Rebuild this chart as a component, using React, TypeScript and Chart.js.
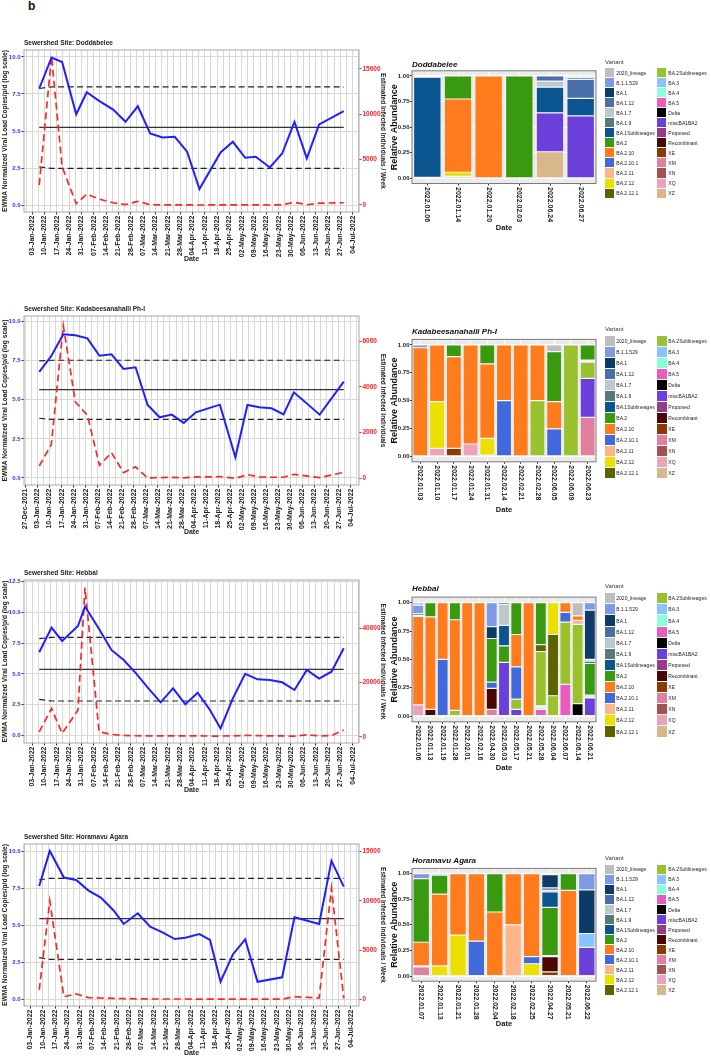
import React, { useEffect, useRef } from 'react';
import { Chart, registerables } from 'chart.js';

Chart.register(...registerables);

const FONT = '"Liberation Sans", Arial, Helvetica, sans-serif';
Chart.defaults.font.family = FONT;

// ---------------- Line charts: days after 03-Jan-2022 ----------------
const doddaDays = [4, 11, 17, 25, 31, 38, 46, 53, 60, 67, 74, 81, 88, 95, 107, 114, 121, 127, 135, 142, 149, 156, 163, 177];
const doddaViral = [7.87, 9.96, 9.66, 6.13, 7.62, 7.03, 6.45, 5.62, 6.67, 4.83, 4.56, 4.61, 3.6, 1.08, 3.55, 4.27, 3.19, 3.26, 2.54, 3.48, 5.62, 3.15, 5.44, 6.34];
const doddaInfected = [2200, 16400, 4200, 150, 1200, 650, 250, 40, 400, 30, 20, 20, 10, 0, 10, 10, 10, 10, 0, 20, 300, 30, 200, 250];
const doddaMean = 5.24;
const doddaUpper = [7.87, 7.98];
const doddaLower = [2.58, 2.47];

const kadaDays = [1, 8, 15, 22, 29, 36, 43, 50, 57, 64, 71, 78, 85, 92, 106, 115, 122, 129, 136, 143, 149, 164, 178];
const kadaViral = [6.78, 7.8, 9.19, 9.13, 8.93, 7.82, 7.91, 6.97, 7.08, 4.67, 3.88, 4.05, 3.52, 4.2, 4.69, 1.32, 4.67, 4.52, 4.46, 4.07, 5.48, 4.05, 6.16];
const kadaInfected = [540, 1475, 6670, 3340, 2760, 570, 1120, 250, 500, 15, 30, 45, 15, 60, 70, 0, 160, 60, 45, 45, 175, 30, 260];
const kadaMean = 5.65;
const kadaUpper = [7.49, 7.53];
const kadaLower = [3.82, 3.75];

const hebbalDays = [4, 11, 17, 26, 30, 38, 45, 52, 59, 66, 73, 80, 87, 94, 101, 107, 114, 121, 128, 135, 142, 149, 156, 163, 170, 177];
const hebbalViral = [6.75, 8.75, 7.67, 8.88, 10.45, 8.64, 6.94, 6.13, 5.05, 3.83, 2.7, 3.83, 2.54, 3.48, 2.08, 0.59, 3.02, 5.0, 4.56, 4.5, 4.32, 3.7, 5.32, 4.62, 5.18, 7.07];
const hebbalInfected = [1800, 10400, 1230, 9800, 55000, 1800, 860, 500, 350, 300, 300, 300, 300, 300, 250, 250, 300, 500, 400, 300, 300, 200, 700, 300, 400, 2500];
const hebbalMean = 5.37;
const hebbalUpper = [7.86, 7.96];
const hebbalLower = [2.94, 2.81];

const horaDays = [5, 11, 19, 26, 33, 40, 47, 53, 61, 68, 75, 82, 88, 96, 102, 108, 115, 122, 129, 143, 150, 164, 171, 178];
const horaViral = [7.65, 10.02, 8.22, 8.06, 7.34, 6.86, 6.03, 5.08, 5.8, 4.9, 4.51, 4.06, 4.15, 4.4, 4.0, 1.17, 3.02, 4.04, 1.17, 1.47, 5.53, 5.08, 9.35, 7.61];
const horaInfected = [950, 9990, 270, 540, 170, 135, 100, 70, 50, 30, 30, 30, 30, 20, 20, 20, 20, 20, 20, 20, 270, 135, 11270, 100];
const horaMean = 5.44;
const horaUpper = [8.06, 8.17];
const horaLower = [2.8, 2.69];

const viralTicks = [0, 2.5, 5, 7.5, 10];
const viralTicksHebbal = [0, 2.5, 5, 7.5, 10, 12.5];
const infectedTicks15k = [0, 5000, 10000, 15000];
const infectedTicks6k = [0, 2000, 4000, 6000];
const infectedTicks40k = [0, 20000, 40000];

// ---------------- Variants ----------------
const variants = ['2020_lineage', 'B.1.1.529', 'BA.1', 'BA.1.12', 'BA.1.7', 'BA.1.9', 'BA.1Sublineages', 'BA.2', 'BA.2.10', 'BA.2.10.1', 'BA.2.11', 'BA.2.12', 'BA.2.12.1', 'BA.2Sublineages', 'BA.3', 'BA.4', 'BA.5', 'Delta', 'miscBA1BA2', 'Proposed', 'Recombinant', 'XE', 'XM', 'XN', 'XQ', 'XZ'];
const variantColors = ['#BEBEBE', '#7D9AE2', '#0B3B66', '#4A6FA8', '#BCC8CC', '#5A7878', '#0A5590', '#3A9A0F', '#FF7B1C', '#4169DB', '#FFB48A', '#EBE000', '#5C6400', '#9AC22E', '#88C4FF', '#88FFDA', '#EA5BC0', '#000000', '#6A3FDA', '#963A8C', '#4A0804', '#8B3A02', '#E07F9E', '#A4524F', '#EBA2BA', '#D8B78A'];

// ---------------- Bar charts ----------------
const doddaBarDates = ['2022.01.06', '2022.01.14', '2022.01.20', '2022.02.03', '2022.06.24', '2022.06.27'];
const doddaBarMix: [string, number][][] = [
  [['B.1.1.529', 0.012], ['BA.1Sublineages', 0.978], ['XE', 0.01]],
  [['BA.2', 0.225], ['BA.2.10', 0.715], ['BA.2.12', 0.04], ['XM', 0.02]],
  [['BA.2.10', 1]],
  [['BA.2', 1]],
  [['BA.1.12', 0.05], ['BA.1.7', 0.06], ['BA.1Sublineages', 0.25], ['miscBA1BA2', 0.38], ['XZ', 0.26]],
  [['2020_lineage', 0.015], ['B.1.1.529', 0.02], ['BA.1.12', 0.185], ['BA.1Sublineages', 0.17], ['miscBA1BA2', 0.61]],
];

const kadaBarDates = ['2022.01.03', '2022.01.10', '2022.01.17', '2022.01.24', '2022.01.31', '2022.02.14', '2022.02.21', '2022.02.28', '2022.06.05', '2022.06.09', '2022.06.23'];
const kadaBarMix: [string, number][][] = [
  [['B.1.1.529', 0.025], ['BA.2.10', 0.975]],
  [['BA.2.10', 0.51], ['BA.2.12', 0.42], ['XQ', 0.07]],
  [['BA.2', 0.105], ['BA.2.10', 0.825], ['XE', 0.07]],
  [['BA.2.10', 0.89], ['XQ', 0.11]],
  [['BA.2', 0.17], ['BA.2.10', 0.67], ['BA.2.12', 0.15], ['XQ', 0.01]],
  [['BA.2.10', 0.5], ['BA.2.10.1', 0.5]],
  [['BA.2.10', 1]],
  [['BA.2.10', 0.5], ['BA.2Sublineages', 0.5]],
  [['2020_lineage', 0.06], ['BA.2', 0.45], ['BA.2.10', 0.245], ['BA.2.10.1', 0.245]],
  [['BA.2Sublineages', 1]],
  [['BA.2', 0.135], ['BA.2.10', 0.01], ['BA.2.10.1', 0.01], ['BA.2Sublineages', 0.145], ['miscBA1BA2', 0.35], ['XM', 0.35]],
];

const hebbalBarDates = ['2022.01.06', '2022.01.13', '2022.01.19', '2022.01.28', '2022.02.01', '2022.02.16', '2022.04.30', '2022.05.03', '2022.05.17', '2022.05.21', '2022.05.28', '2022.06.04', '2022.06.07', '2022.06.14', '2022.06.21'];
const hebbalBarMix: [string, number][][] = [
  [['2020_lineage', 0.02], ['B.1.1.529', 0.075], ['BA.1', 0.015], ['BA.1.12', 0.01], ['BA.2.10', 0.78], ['XQ', 0.1]],
  [['BA.2', 0.125], ['BA.2.10', 0.815], ['Recombinant', 0.06]],
  [['BA.2.10', 0.5], ['BA.2.10.1', 0.5]],
  [['BA.2', 0.15], ['BA.2.10', 0.8], ['BA.2Sublineages', 0.05]],
  [['BA.2.10', 1]],
  [['BA.2.10', 1]],
  [['B.1.1.529', 0.21], ['BA.1', 0.105], ['BA.2', 0.385], ['BA.2.10.1', 0.055], ['Recombinant', 0.185], ['XM', 0.06]],
  [['BA.1', 0.015], ['BA.1.7', 0.185], ['BA.1Sublineages', 0.18], ['BA.2', 0.145], ['miscBA1BA2', 0.475]],
  [['BA.2', 0.28], ['BA.2.10', 0.285], ['BA.2.10.1', 0.285], ['BA.2Sublineages', 0.09], ['miscBA1BA2', 0.06]],
  [['BA.2.10', 1]],
  [['BA.2', 0.37], ['BA.2.12.1', 0.06], ['BA.2Sublineages', 0.48], ['BA.3', 0.01], ['BA.4', 0.02], ['BA.5', 0.06]],
  [['BA.2.12', 0.28], ['BA.2.12.1', 0.54], ['BA.2Sublineages', 0.18]],
  [['BA.2.10', 0.085], ['BA.2.10.1', 0.085], ['BA.2Sublineages', 0.55], ['BA.5', 0.28]],
  [['2020_lineage', 0.115], ['BA.2.10', 0.04], ['BA.2.11', 0.035], ['BA.2Sublineages', 0.7], ['Delta', 0.11]],
  [['B.1.1.529', 0.065], ['BA.1', 0.435], ['BA.1.7', 0.015], ['BA.1Sublineages', 0.02], ['BA.2', 0.28], ['BA.2Sublineages', 0.015], ['BA.3', 0.01], ['miscBA1BA2', 0.16]],
];

const horaBarDates = ['2022.01.07', '2022.01.13', '2022.01.21', '2022.01.28', '2022.02.04', '2022.02.18', '2022.02.25', '2022.04.27', '2022.05.21', '2022.06.22'];
const horaBarMix: [string, number][][] = [
  [['B.1.1.529', 0.05], ['BA.2', 0.62], ['BA.2.10', 0.23], ['Proposed', 0.01], ['XM', 0.09]],
  [['B.1.1.529', 0.015], ['BA.2', 0.185], ['BA.2.10', 0.7], ['BA.2.12', 0.1]],
  [['BA.2.10', 0.6], ['BA.2.12', 0.4]],
  [['BA.2.10', 0.66], ['BA.2.10.1', 0.34]],
  [['BA.2', 0.375], ['BA.2.10', 0.625]],
  [['BA.2.10', 0.5], ['BA.2.11', 0.5]],
  [['BA.2.10', 0.81], ['BA.2.10.1', 0.07], ['BA.2.12', 0.12]],
  [['2020_lineage', 0.01], ['BA.1', 0.13], ['BA.1.12', 0.025], ['BA.1.7', 0.015], ['BA.1Sublineages', 0.15], ['BA.2', 0.47], ['Proposed', 0.01], ['Recombinant', 0.15], ['XE', 0.04]],
  [['BA.2', 0.165], ['BA.2.10', 0.835]],
  [['B.1.1.529', 0.16], ['BA.1', 0.425], ['BA.3', 0.135], ['miscBA1BA2', 0.28]],
];

// ---------------- layout configs ----------------
type LineSite = {
  title: string; days: number[]; viral: number[]; infected: number[];
  mean: number; upper: number[]; lower: number[];
  panelTop: number; panelBottom: number;
  yMin: number; yMax: number; yTicks: number[];
  y1Min: number; y1Max: number; y1Ticks: number[]; rightTitle: string;
};

const lineSites: LineSite[] = [
  { title: 'Sewershed Site: Doddabelee', days: doddaDays, viral: doddaViral, infected: doddaInfected, mean: doddaMean, upper: doddaUpper, lower: doddaLower,
    panelTop: 50, panelBottom: 212, yMin: -0.47, yMax: 10.47, yTicks: viralTicks, y1Min: -772, y1Max: 17090, y1Ticks: infectedTicks15k, rightTitle: 'Estimated Infected Individuals / Week' },
  { title: 'Sewershed Site: Kadabeesanahalli Ph-I', days: kadaDays, viral: kadaViral, infected: kadaInfected, mean: kadaMean, upper: kadaUpper, lower: kadaLower,
    panelTop: 316, panelBottom: 485, yMin: -0.45, yMax: 10.36, yTicks: viralTicks, y1Min: -293, y1Max: 7100, y1Ticks: infectedTicks6k, rightTitle: 'Estimated Infected Individuals' },
  { title: 'Sewershed Site: Hebbal', days: hebbalDays, viral: hebbalViral, infected: hebbalInfected, mean: hebbalMean, upper: hebbalUpper, lower: hebbalLower,
    panelTop: 580, panelBottom: 743, yMin: -0.59, yMax: 12.6, yTicks: viralTicksHebbal, y1Min: -2320, y1Max: 57800, y1Ticks: infectedTicks40k, rightTitle: 'Estimated Infected Individuals / Week' },
  { title: 'Sewershed Site: Horamavu Agara', days: horaDays, viral: horaViral, infected: horaInfected, mean: horaMean, upper: horaUpper, lower: horaLower,
    panelTop: 844, panelBottom: 1006, yMin: -0.47, yMax: 10.49, yTicks: viralTicks, y1Min: -680, y1Max: 15780, y1Ticks: infectedTicks15k, rightTitle: 'Estimated Infected Individuals / Week' },
];

type BarSite = {
  title: string; dates: string[]; mix: [string, number][][];
  titleY: number; panelTop: number; panelBottom: number; dateY: number;
  legendTitleY: number; legendFirstY: number; legendStep: number;
};

const barSites: BarSite[] = [
  { title: 'Doddabelee', dates: doddaBarDates, mix: doddaBarMix, titleY: 65, panelTop: 71, panelBottom: 184, dateY: 228, legendTitleY: 62, legendFirstY: 72.7, legendStep: 10.03 },
  { title: 'Kadabeesanahalli Ph-I', dates: kadaBarDates, mix: kadaBarMix, titleY: 331.7, panelTop: 339.3, panelBottom: 462.3, dateY: 510, legendTitleY: 329, legendFirstY: 341.3, legendStep: 11.0 },
  { title: 'Hebbal', dates: hebbalBarDates, mix: hebbalBarMix, titleY: 589, panelTop: 597.3, panelBottom: 722.3, dateY: 768, legendTitleY: 586, legendFirstY: 598.3, legendStep: 11.1 },
  { title: 'Horamavu Agara', dates: horaBarDates, mix: horaBarMix, titleY: 860.7, panelTop: 868.3, panelBottom: 981.7, dateY: 1024, legendTitleY: 858.3, legendFirstY: 869.3, legendStep: 10.06 },
];

// ---------------- helpers ----------------
const MONTHS = ['Jan', 'Feb', 'Mar', 'Apr', 'May', 'Jun', 'Jul', 'Aug', 'Sep', 'Oct', 'Nov', 'Dec'];
function dayLabel(d: number): string {
  const dt = new Date(Date.UTC(2022, 0, 3 + Math.round(d)));
  return String(dt.getUTCDate()).padStart(2, '0') + '-' + MONTHS[dt.getUTCMonth()] + '-' + dt.getUTCFullYear();
}
const isMajorWeek = (v: number) => Math.round(v / 3.5) % 2 === 0;

const linePanel = {
  id: 'linePanel',
  afterDatasetsDraw(chart: any) {
    const { ctx, chartArea: a } = chart;
    ctx.save();
    ctx.strokeStyle = '#A8A8A8';
    ctx.lineWidth = 1;
    ctx.strokeRect(a.left, a.top, a.right - a.left, a.bottom - a.top);
    ctx.restore();
  },
};

const barPanel = {
  id: 'barPanel',
  beforeDraw(chart: any) {
    const { ctx, chartArea: a } = chart;
    ctx.save();
    ctx.fillStyle = '#EBEBEB';
    ctx.fillRect(a.left, a.top, a.right - a.left, a.bottom - a.top);
    ctx.restore();
  },
  afterDatasetsDraw(chart: any) {
    const { ctx, chartArea: a } = chart;
    ctx.save();
    ctx.strokeStyle = '#7A7A7A';
    ctx.lineWidth = 1;
    ctx.strokeRect(a.left, a.top, a.right - a.left, a.bottom - a.top);
    ctx.restore();
  },
  afterDraw(chart: any) {
    const xs = chart.scales.x;
    const ctx = chart.ctx;
    ctx.save();
    ctx.font = `bold 7px ${FONT}`;
    ctx.fillStyle = '#222';
    ctx.textAlign = 'left';
    ctx.textBaseline = 'middle';
    (chart.data.labels as string[]).forEach((lab, i) => {
      const x = xs.getPixelForValue(i);
      ctx.save();
      ctx.translate(x, xs.top + 3.5);
      ctx.rotate(Math.PI / 2);
      ctx.fillText(lab, 0, 0);
      ctx.restore();
    });
    ctx.restore();
  },
};

function SiteLine({ s }: { s: LineSite }) {
  const ref = useRef<HTMLCanvasElement | null>(null);
  const W = 389;
  const top = s.panelTop - 14;
  const H = s.panelBottom - s.panelTop + 14 + 51;
  useEffect(() => {
    const d0 = s.days[0];
    const dn = s.days[s.days.length - 1];
    const pad = (dn - d0) * 0.05;
    const xMin = d0 - pad;
    const xMax = dn + pad;
    const chart = new Chart(ref.current as HTMLCanvasElement, {
      type: 'line',
      data: {
        datasets: [
          { label: 'EWMA viral load', data: s.days.map((d, i) => ({ x: d, y: s.viral[i] })), borderColor: '#1F1FFF', borderWidth: 2, pointRadius: 0, yAxisID: 'y', order: 1 },
          { label: 'Estimated infected', data: s.days.map((d, i) => ({ x: d, y: s.infected[i] })), borderColor: '#FF2626', borderWidth: 1.7, borderDash: [7, 4], pointRadius: 0, yAxisID: 'y1', order: 2 },
          { label: 'Mean', data: [{ x: d0, y: s.mean }, { x: dn, y: s.mean }], borderColor: '#333333', borderWidth: 1.3, pointRadius: 0, yAxisID: 'y', order: 3 },
          { label: 'Upper', data: [{ x: d0, y: s.upper[0] }, { x: s.days[1], y: s.upper[1] }, { x: dn, y: s.upper[1] }], borderColor: '#222222', borderWidth: 1.2, borderDash: [6, 3.5], pointRadius: 0, yAxisID: 'y', order: 3 },
          { label: 'Lower', data: [{ x: d0, y: s.lower[0] }, { x: s.days[1], y: s.lower[1] }, { x: dn, y: s.lower[1] }], borderColor: '#222222', borderWidth: 1.2, borderDash: [6, 3.5], pointRadius: 0, yAxisID: 'y', order: 3 },
        ],
      } as any,
      options: {
        responsive: false,
        animation: false,
        devicePixelRatio: 1,
        layout: { padding: 0 },
        plugins: {
          legend: { display: false },
          tooltip: { enabled: false },
          title: { display: true, text: s.title, align: 'start', fullSize: false, color: '#222', font: { size: 6.5, weight: 'bold' }, padding: { top: 3, bottom: 3.2 } },
        },
        scales: {
          x: {
            type: 'linear', min: xMin, max: xMax,
            afterBuildTicks: (scale: any) => {
              const t: any[] = [];
              for (let v = -10.5; v <= 189; v += 3.5) if (v >= xMin && v <= xMax) t.push({ value: v });
              scale.ticks = t;
            },
            afterFit: (scale: any) => { scale.height = 51; },
            ticks: { autoSkip: false, minRotation: 90, maxRotation: 90, color: '#222', font: { size: 7, weight: 'bold' }, padding: 1,
              callback: (v: any) => (isMajorWeek(Number(v)) ? dayLabel(Number(v)) : '') },
            grid: { color: '#D8D8D8', lineWidth: 1, tickLength: 2.5,
              tickColor: (c: any) => (c.tick && isMajorWeek(c.tick.value) ? '#333' : 'rgba(0,0,0,0)') },
            border: { display: false },
            title: { display: true, text: 'Date', color: '#222', font: { size: 7, weight: 'bold' }, padding: { top: 0, bottom: 0 } },
          },
          y: {
            position: 'left', min: s.yMin, max: s.yMax,
            afterBuildTicks: (scale: any) => { scale.ticks = s.yTicks.map((v) => ({ value: v })); },
            afterFit: (scale: any) => { scale.width = 24; },
            ticks: { color: '#3030FF', font: { size: 6, weight: 'bold' }, padding: 1, callback: (v: any) => Number(v).toFixed(1) },
            grid: { color: '#D8D8D8', lineWidth: 1, tickLength: 2.5, tickColor: '#333' },
            border: { display: false },
            title: { display: true, text: 'EWMA Normalized Viral Load Copies/p/d (log scale)', color: '#222', font: { size: 6.6, weight: 'bold' }, padding: { top: 1, bottom: 0 } },
          },
          y1: {
            position: 'right', min: s.y1Min, max: s.y1Max,
            afterBuildTicks: (scale: any) => { scale.ticks = s.y1Ticks.map((v) => ({ value: v })); },
            afterFit: (scale: any) => { scale.width = 30; },
            ticks: { color: '#FF2020', font: { size: 6.5, weight: 'bold' }, padding: 1, callback: (v: any) => String(v) },
            grid: { drawOnChartArea: false, tickLength: 2.5, tickColor: '#FF2020' },
            border: { display: false },
            title: { display: true, text: s.rightTitle, color: '#222', font: { size: 6.5, weight: 'bold' }, padding: { top: 2.5, bottom: 0 } },
          },
        },
      } as any,
      plugins: [linePanel],
    });
    return () => chart.destroy();
  }, []);
  return <canvas ref={ref} width={W} height={H} style={{ position: 'absolute', left: 0, top, width: W, height: H }} />;
}

function SiteBars({ b }: { b: BarSite }) {
  const ref = useRef<HTMLCanvasElement | null>(null);
  const left = 386;
  const W = 214;
  const top = b.titleY - 5.8;
  const H = b.dateY + 4.5 - top;
  const titlePadBottom = b.panelTop - top - 1 - 9.6;
  const xAxisH = b.dateY + 4.5 - b.panelBottom;
  useEffect(() => {
    const datasets = [...variants].reverse().map((v) => ({
      label: v,
      data: b.mix.map((m) => { const f = m.find((e) => e[0] === v); return f ? f[1] : null; }),
      backgroundColor: variantColors[variants.indexOf(v)],
      borderColor: '#FFFFFF',
      borderWidth: 0.6,
      borderSkipped: false,
      barPercentage: 0.9,
      categoryPercentage: 1,
    })).filter((ds) => ds.data.some((x) => x !== null));
    const chart = new Chart(ref.current as HTMLCanvasElement, {
      type: 'bar',
      data: { labels: b.dates, datasets },
      options: {
        responsive: false,
        animation: false,
        devicePixelRatio: 1,
        layout: { padding: { right: 4 } },
        plugins: {
          legend: { display: false },
          tooltip: { enabled: false },
          title: { display: true, text: b.title, align: 'start', fullSize: false, color: '#111', font: { size: 8, weight: 'bold', style: 'italic' }, padding: { top: 1, bottom: titlePadBottom } },
        },
        scales: {
          x: {
            stacked: true, offset: true,
            afterFit: (scale: any) => { scale.height = xAxisH; },
            ticks: { display: false },
            grid: { offset: false, color: '#FFFFFF', lineWidth: 1, tickLength: 2, tickColor: '#333' },
            border: { display: false },
            title: { display: true, text: 'Date', color: '#111', font: { size: 7.5, weight: 'bold' }, padding: { top: 0, bottom: 0 } },
          },
          y: {
            stacked: true, min: -0.05, max: 1.05,
            afterBuildTicks: (scale: any) => { const t: any[] = []; for (let k = 0; k <= 8; k++) t.push({ value: k / 8 }); scale.ticks = t; },
            afterFit: (scale: any) => { scale.width = 26; },
            ticks: { color: '#222', font: { size: 6, weight: 'bold' }, padding: 0.5,
              callback: (v: any) => (Math.round(Number(v) * 8) % 2 === 0 ? Number(v).toFixed(2) : '') },
            grid: { color: '#FFFFFF', tickLength: 2,
              lineWidth: (c: any) => (c.tick && Math.round(c.tick.value * 8) % 2 === 0 ? 1 : 0.5),
              tickColor: (c: any) => (c.tick && Math.round(c.tick.value * 8) % 2 === 0 ? '#333' : 'rgba(0,0,0,0)') },
            border: { display: false },
            title: { display: true, text: 'Relative Abundance', color: '#111', font: { size: 9, weight: 'bold' }, padding: { top: 3, bottom: 0 } },
          },
        },
      } as any,
      plugins: [barPanel],
    });
    return () => chart.destroy();
  }, []);
  return <canvas ref={ref} width={W} height={H} style={{ position: 'absolute', left, top, width: W, height: H }} />;
}

function VariantLegend({ b }: { b: BarSite }) {
  const box = b.legendStep - 1;
  return (
    <>
      <div style={{ position: 'absolute', left: 605, top: b.legendTitleY - 4, fontSize: 6, lineHeight: '8px', color: '#333', whiteSpace: 'nowrap' }}>Variant</div>
      {variants.map((v, i) => {
        const col = i < 13 ? 0 : 1;
        const row = i % 13;
        const cy = b.legendFirstY + row * b.legendStep;
        const bx = col ? 657 : 605;
        return (
          <React.Fragment key={v}>
            <div style={{ position: 'absolute', left: bx, top: cy - box / 2, width: box, height: box, background: variantColors[i] }} />
            <div style={{ position: 'absolute', left: bx + 11.3, top: cy - 3, fontSize: 5, lineHeight: '6px', color: '#222', whiteSpace: 'nowrap' }}>{v}</div>
          </React.Fragment>
        );
      })}
    </>
  );
}

export default function App() {
  return (
    <div style={{ position: 'absolute', left: 0, top: 0, width: 711, height: 1056, overflow: 'hidden', background: '#FFFFFF', fontFamily: FONT }}>
      <div style={{ position: 'absolute', left: 28, top: -1, fontSize: 12, lineHeight: '14px', fontWeight: 'bold', color: '#111' }}>b</div>
      {lineSites.map((s) => <SiteLine key={s.title} s={s} />)}
      {barSites.map((b) => <SiteBars key={b.title} b={b} />)}
      {barSites.map((b) => <VariantLegend key={'lg' + b.title} b={b} />)}
    </div>
  );
}
